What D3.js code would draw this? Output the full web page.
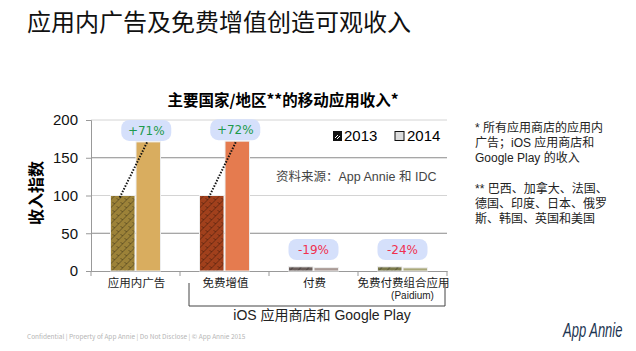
<!DOCTYPE html>
<html>
<head>
<meta charset="utf-8">
<script src="https://cdn.jsdelivr.net/npm/d3@7"></script>
<style>
body { margin: 0; background: #fff; }
svg { display: block; font-family: "Noto Sans CJK SC", "Noto Sans", sans-serif; }
</style>
</head>
<body>
<svg width="636" height="351"></svg>
<script>
var categories = ["应用内广告", "免费增值", "付费", "免费付费组合应用"];
var years = ["2013", "2014"];
var v2013 = [100, 100, 5.5, 5.5];
var v2014 = [171, 172, 4.5, 4.2];
var changes = ["+71%", "+72%", "-19%", "-24%"];
var yTicks = [0, 50, 100, 150, 200];
var notes = ["* 所有应用商店的应用内", "广告；iOS 应用商店和", "Google Play 的收入", "", "** 巴西、加拿大、法国、", "德国、印度、日本、俄罗", "斯、韩国、英国和美国"];

var col2013 = ["#9c8238", "#a1401c", "#6b5f5c", "#7b7a4c"];
var col2014 = ["#d9ad5f", "#e57b4f", "#a99a96", "#a9a87a"];

var latin = "Liberation Sans, Noto Sans CJK SC, sans-serif";

var svg = d3.select("svg");
var defs = svg.append("defs");

// brick-like hatch for 2013 bars
col2013.forEach(function(c, i) {
  var p = defs.append("pattern")
    .attr("id", "hatch" + i)
    .attr("patternUnits", "userSpaceOnUse")
    .attr("width", 8).attr("height", 8);
  p.append("rect").attr("width", 8).attr("height", 8).attr("fill", c);
  p.append("path")
    .attr("d", "M0,8 L8,0 M-2,2 L2,-2 M6,10 L10,6 M2,2 L4,4 M6,6 L8,8 M-2,6 L0,8")
    .attr("stroke", d3.color(c).darker(1.2))
    .attr("stroke-width", 1);
});

// page title
svg.append("text")
  .attr("x", 27).attr("y", 31)
  .attr("font-size", 24)
  .attr("fill", "#111")
  .text("应用内广告及免费增值创造可观收入");

var x0 = d3.scaleBand().domain(categories).range([91, 447]);
var x1 = d3.scaleBand().domain(years).range([0, 50]).paddingInner(0.04);
var y = d3.scaleLinear().domain([0, 200]).range([271, 120]);

// chart title
svg.append("text")
  .attr("x", 283).attr("y", 106)
  .attr("text-anchor", "middle")
  .attr("font-size", 15.5).attr("font-weight", "bold")
  .text("主要国家/地区**的移动应用收入*");

// gridlines
svg.append("g").selectAll("line")
  .data(yTicks.slice(1))
  .enter().append("line")
  .attr("x1", 91).attr("x2", 447)
  .attr("y1", function(d) { return y(d); })
  .attr("y2", function(d) { return y(d); })
  .attr("stroke", function(d) { return d % 100 === 0 ? "#d4d4d4" : "#8a8a8a"; })
  .attr("stroke-width", 1);

// y axis
var yAxis = svg.append("g")
  .attr("transform", "translate(91,0)")
  .call(d3.axisLeft(y).tickValues(yTicks).tickSize(5).tickPadding(8));
yAxis.select(".domain").attr("stroke", "#999");
yAxis.selectAll(".tick line").attr("stroke", "#999");
yAxis.selectAll("text").attr("font-size", 15).attr("fill", "#111")
  .attr("font-family", latin);

svg.append("text")
  .attr("transform", "translate(42,193) rotate(-90)")
  .attr("text-anchor", "middle")
  .attr("font-size", 16).attr("font-weight", "bold")
  .text("收入指数");

// x axis
var xAxis = svg.append("g")
  .attr("transform", "translate(0,271)")
  .call(d3.axisBottom(x0).tickSize(0).tickFormat(""));
xAxis.select(".domain").attr("stroke", "#999");
svg.append("g").selectAll("line")
  .data([0, 1, 2, 3, 4])
  .enter().append("line")
  .attr("x1", function(i) { return 91 + i * x0.bandwidth(); })
  .attr("x2", function(i) { return 91 + i * x0.bandwidth(); })
  .attr("y1", 271).attr("y2", 276)
  .attr("stroke", "#999");

svg.append("g").selectAll("text")
  .data(categories)
  .enter().append("text")
  .attr("x", function(d) { return x0(d) + x0.bandwidth() / 2 + 1; })
  .attr("y", 287)
  .attr("text-anchor", "middle")
  .attr("font-size", 11.5)
  .attr("font-family", latin)
  .attr("fill", "#222")
  .text(function(d) { return d; });
svg.append("text")
  .attr("x", x0(categories[3]) + x0.bandwidth() / 2 + 10)
  .attr("y", 299)
  .attr("text-anchor", "middle")
  .attr("font-size", 10).attr("fill", "#222")
  .attr("font-family", latin)
  .text("(Paidium)");

// bars
var groups = svg.append("g").selectAll("g")
  .data(categories)
  .enter().append("g")
  .attr("transform", function(d) { return "translate(" + (x0(d) + x0.bandwidth() / 2 - 25) + ",0)"; });

groups.append("rect")
  .attr("x", x1("2013"))
  .attr("width", x1.bandwidth())
  .attr("y", function(d, i) { return y(v2013[i]); })
  .attr("height", function(d, i) { return y(0) - y(v2013[i]); })
  .attr("fill", function(d, i) { return "url(#hatch" + i + ")"; })
  .attr("stroke", "#eee").attr("stroke-width", 1);

groups.append("rect")
  .attr("x", x1("2014"))
  .attr("width", x1.bandwidth())
  .attr("y", function(d, i) { return y(v2014[i]); })
  .attr("height", function(d, i) { return y(0) - y(v2014[i]); })
  .attr("fill", function(d, i) { return col2014[i]; })
  .attr("stroke", "#eee").attr("stroke-width", 1);

// change labels
groups.each(function(d, i) {
  var g = d3.select(this);
  var up = v2014[i] > v2013[i];
  var cx = up ? x1("2014") + x1.bandwidth() / 2 - 2 : 25;
  var cy = up ? y(v2014[i]) - 12 : y(0) - 22;
  if (up) {
    g.append("line")
      .attr("x1", x1("2013") + x1.bandwidth() / 2 - 3)
      .attr("y1", y(v2013[i]) + 2)
      .attr("x2", x1("2014") + x1.bandwidth() / 2 - 1)
      .attr("y2", y(v2014[i]))
      .attr("stroke", "#111").attr("stroke-width", 2)
      .attr("stroke-dasharray", "1.5,1.5");
  }
  g.append("rect")
    .attr("x", cx - 25).attr("y", cy - 10)
    .attr("width", 50).attr("height", 21)
    .attr("rx", 8)
    .attr("fill", "#d5e0fb");
  g.append("text")
    .attr("x", cx).attr("y", cy + 5)
    .attr("text-anchor", "middle")
    .attr("fill", up ? "#1e9a4c" : "#f0304f")
    .attr("font-family", "DejaVu Sans, sans-serif")
    .attr("font-size", 12)
    .text(changes[i]);
});

// legend
var lg = svg.append("g").attr("transform", "translate(333,131)");
lg.append("rect").attr("width", 9).attr("height", 10).attr("fill", "#111");
lg.append("path").attr("d", "M2,7 L5,4 M4,8 L7,5").attr("stroke", "#fff").attr("stroke-width", 1);
lg.append("text").attr("x", 11).attr("y", 10).attr("font-size", 15)
  .attr("font-family", latin).text(years[0]);
lg.append("rect").attr("x", 62).attr("y", 0.5).attr("width", 9).attr("height", 9)
  .attr("fill", "#ddd").attr("stroke", "#111").attr("stroke-width", 1);
lg.append("text").attr("x", 74).attr("y", 10).attr("font-size", 15)
  .attr("font-family", latin).text(years[1]);

svg.append("text")
  .attr("x", 276).attr("y", 181)
  .attr("font-size", 12.5).attr("fill", "#444")
  .attr("font-family", latin)
  .text("资料来源：App Annie 和 IDC");

// bracket
svg.append("path")
  .attr("d", "M189,283 V306 H445 V283")
  .attr("fill", "none").attr("stroke", "#444").attr("stroke-width", 1);
svg.append("text")
  .attr("x", 322).attr("y", 320)
  .attr("text-anchor", "middle")
  .attr("font-size", 14).attr("fill", "#222")
  .attr("font-family", latin)
  .text("iOS 应用商店和 Google Play");

// notes
svg.append("g").selectAll("text")
  .data(notes)
  .enter().append("text")
  .attr("x", 475)
  .attr("y", function(d, i) { return 132 + i * 15.2; })
  .attr("font-size", 12).attr("fill", "#222")
  .attr("font-family", latin)
  .text(function(d) { return d; });

// footer
svg.append("text")
  .attr("x", 27).attr("y", 339)
  .attr("font-size", 6.5).attr("fill", "#b5b5b5")
  .text("Confidential  |  Property of App Annie  |  Do Not Disclose  |  © App Annie 2015");
svg.append("text")
  .attr("transform", "translate(563,337) scale(1,1.6)")
  .attr("font-size", 13).attr("font-style", "italic")
  .attr("fill", "#1d3552")
  .attr("font-family", "Liberation Sans, sans-serif")
  .text("App Annie");
</script>
</body>
</html>
